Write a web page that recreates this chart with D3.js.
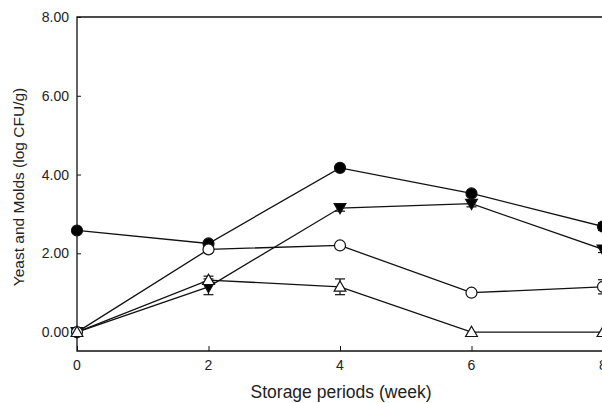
<!DOCTYPE html>
<html>
<head>
<meta charset="utf-8">
<script src="https://cdn.jsdelivr.net/npm/d3@7"></script>
<style>
  body { margin: 0; background: #fff; }
  text { font-family: "Liberation Sans", Arial, sans-serif; fill: #222; }
</style>
</head>
<body>
<svg id="chart" width="602" height="403"></svg>
<script>
const weeks = [0, 2, 4, 6, 8];
const xTicks = [0, 2, 4, 6, 8];
const yTicks = [0, 2, 4, 6, 8];

// mean values per treatment (log CFU/g)
const filledCircle = [2.58, 2.25, 4.17, 3.52, 2.68];
const filledTriangle = [0, 1.15, 3.15, 3.26, 2.1];
const openCircle = [0, 2.1, 2.2, 1.0, 1.15];
const openTriangle = [0, 1.32, 1.15, 0, 0];

// error bar half widths
const filledCircleErr = [0, 0.05, 0.05, 0.05, 0.1];
const filledTriangleErr = [0, 0.2, 0.08, 0.08, 0.08];
const openCircleErr = [0, 0.05, 0.05, 0.05, 0.18];
const openTriangleErr = [0, 0.1, 0.2, 0, 0];

const margin = {left: 77, top: 17, right: 603, bottom: 351};

const x = d3.scaleLinear().domain([0, 8]).range([margin.left, margin.right]);
const y = d3.scaleLinear().domain([-0.48, 8]).range([margin.bottom, margin.top]);

const svg = d3.select("#chart");

// frame: left + top + bottom
svg.append("path")
  .attr("d", `M${margin.right},${margin.top}H${margin.left}V${margin.bottom}H${margin.right}`)
  .attr("fill", "none")
  .attr("stroke", "#111")
  .attr("stroke-width", 1.3);

// y axis ticks (inside)
const yAxis = svg.append("g")
  .attr("transform", `translate(${margin.left},0)`)
  .call(d3.axisRight(y).tickValues(yTicks).tickSize(4).tickFormat(""));
yAxis.select(".domain").remove();
yAxis.selectAll("line").attr("stroke", "#111");

svg.append("g").selectAll("text")
  .data(yTicks)
  .join("text")
  .attr("x", margin.left - 8)
  .attr("y", d => y(d) + 5)
  .attr("text-anchor", "end")
  .attr("font-size", 14)
  .text(d => d.toFixed(2));

// x axis ticks (inside)
const xAxis = svg.append("g")
  .attr("transform", `translate(0,${margin.bottom})`)
  .call(d3.axisTop(x).tickValues(xTicks).tickSize(5).tickFormat(""));
xAxis.select(".domain").remove();
xAxis.selectAll("line").attr("stroke", "#111");

svg.append("g").selectAll("text")
  .data(xTicks)
  .join("text")
  .attr("x", d => x(d))
  .attr("y", margin.bottom + 19)
  .attr("text-anchor", "middle")
  .attr("font-size", 14)
  .text(d => d);

svg.append("text")
  .attr("x", 341)
  .attr("y", 398)
  .attr("text-anchor", "middle")
  .attr("font-size", 17.5)
  .text("Storage periods (week)");

svg.append("text")
  .attr("transform", `translate(24,187) rotate(-90)`)
  .attr("text-anchor", "middle")
  .attr("font-size", 15.5)
  .text("Yeast and Molds (log CFU/g)");

const series = [
  {values: filledCircle, err: filledCircleErr, shape: "circle", fill: "#000"},
  {values: filledTriangle, err: filledTriangleErr, shape: "down", fill: "#000"},
  {values: openCircle, err: openCircleErr, shape: "circle", fill: "#fff"},
  {values: openTriangle, err: openTriangleErr, shape: "up", fill: "#fff"}
];

const line = d3.line()
  .x((d, i) => x(weeks[i]))
  .y(d => y(d));

const plot = svg.append("g");

series.forEach(s => {
  plot.append("path")
    .attr("d", line(s.values))
    .attr("fill", "none")
    .attr("stroke", "#111")
    .attr("stroke-width", 1.3);
});

// error bars
series.forEach(s => {
  const g = plot.append("g").attr("stroke", "#111").attr("stroke-width", 1.2);
  s.values.forEach((v, i) => {
    const e = s.err[i];
    if (!e) return;
    const cx = x(weeks[i]);
    g.append("line").attr("x1", cx).attr("x2", cx).attr("y1", y(v - e)).attr("y2", y(v + e));
    g.append("line").attr("x1", cx - 5).attr("x2", cx + 5).attr("y1", y(v - e)).attr("y2", y(v - e));
    g.append("line").attr("x1", cx - 5).attr("x2", cx + 5).attr("y1", y(v + e)).attr("y2", y(v + e));
  });
});

const triUp = d3.symbol().type(d3.symbolTriangle).size(60);

series.forEach(s => {
  const g = plot.append("g");
  s.values.forEach((v, i) => {
    const cx = x(weeks[i]), cy = y(v);
    if (s.shape === "circle") {
      g.append("circle")
        .attr("cx", cx).attr("cy", cy).attr("r", 5.5)
        .attr("fill", s.fill).attr("stroke", "#111").attr("stroke-width", 1.2);
    } else {
      const rot = s.shape === "down" ? 180 : 0;
      g.append("path")
        .attr("d", triUp())
        .attr("transform", `translate(${cx},${cy + (s.shape === "down" ? -1 : 1)}) rotate(${rot})`)
        .attr("fill", s.fill).attr("stroke", "#111").attr("stroke-width", 1.2);
    }
  });
});
</script>
</body>
</html>
